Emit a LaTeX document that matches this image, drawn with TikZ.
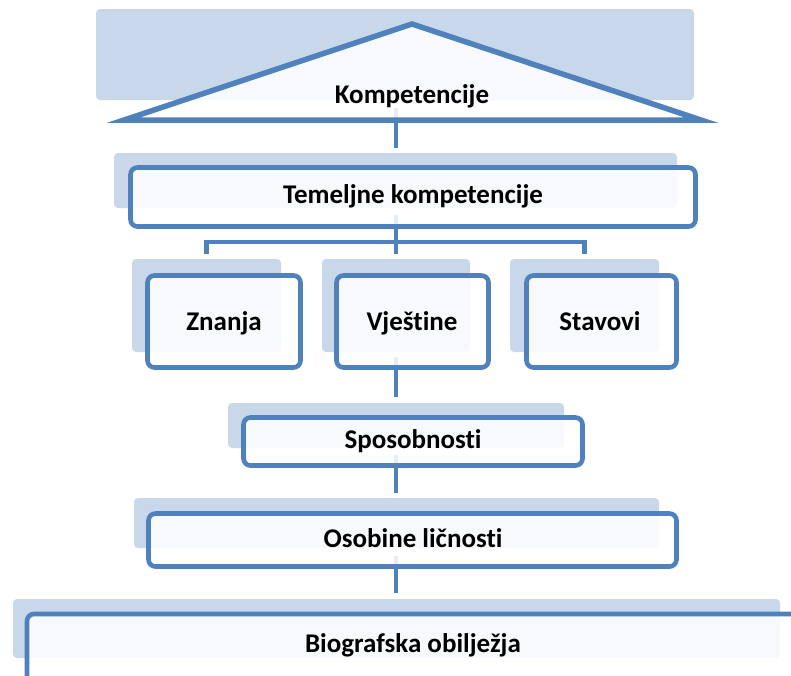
\documentclass[tikz,border=0pt]{standalone}
\usepackage{fontspec}
\setmainfont{Carlito}[Ligatures={NoCommon}]
\usetikzlibrary{calc}
\definecolor{edge}{RGB}{79,129,189}
\definecolor{shade}{RGB}{200,215,234}
\pgfdeclarelayer{back}
\pgfsetlayers{back,main}
\begin{document}
\begin{tikzpicture}[x=1pt,y=-1pt,
  shadebox/.style={fill=shade, draw=none, rounded corners=4pt, inner sep=0pt, outer sep=0pt},
  framebox/.style={draw=edge, line width=4.6pt, rounded corners=7pt, fill=white, fill opacity=0.86, inner sep=0pt},
  lbl/.style={font=\bfseries\fontsize{27}{32}\selectfont, anchor=base, inner sep=0pt},
  conn/.style={draw=edge, line width=4.6pt}]
\useasboundingbox (0,0) rectangle (791,675);
\coordinate (vx) at (396,0);
\coordinate (bus) at (396,242);
\coordinate (tribase) at (396,120);

% roof
\node[shadebox, minimum width=598pt, minimum height=91pt] (kompb) at (395,54.5) {};
\draw[edge, line width=5.5pt, line join=miter, fill=white, fill opacity=0.86]
  (124,120) -- (412,24) -- (701,120) -- cycle;
\node[lbl] (komp) at (412,103.5) {Kompetencije};

% Temeljne kompetencije
\node[shadebox, minimum width=563pt, minimum height=55pt] (temb) at (395.5,180.5) {};
\node[framebox, minimum width=565pt, minimum height=59pt] (tem) at (413,197) {};
\node[lbl] at (413,203) {Temeljne kompetencije};

% three boxes
\node[shadebox, minimum width=149pt, minimum height=93pt] (znb) at (206.5,305.5) {};
\node[framebox, minimum width=153pt, minimum height=92pt] (zn) at (224,321.5) {};
\node[lbl] at (224,330) {Znanja};

\node[shadebox, minimum width=148pt, minimum height=93pt] (vjb) at (396,305.5) {};
\node[framebox, minimum width=152pt, minimum height=92pt] (vj) at (412.5,321.5) {};
\node[lbl] at (412,330) {Vještine};

\node[shadebox, minimum width=149pt, minimum height=93pt] (stb) at (584.5,305.5) {};
\node[framebox, minimum width=150pt, minimum height=92pt] (st) at (601.5,321.5) {};
\node[lbl] at (600,330) {Stavovi};

% Sposobnosti
\node[shadebox, minimum width=336pt, minimum height=45pt] (spb) at (396,425.5) {};
\node[framebox, minimum width=339pt, minimum height=48pt] (sp) at (413,441.5) {};
\node[lbl] at (413,448) {Sposobnosti};

% Osobine ličnosti
\node[shadebox, minimum width=525pt, minimum height=50pt] (osb) at (396.5,523) {};
\node[framebox, minimum width=528pt, minimum height=53pt] (os) at (412.5,540) {};
\node[lbl] at (413,547) {Osobine ličnosti};

% Biografska obilježja
\node[shadebox, minimum width=767pt, minimum height=59pt] (bib) at (396.5,628.5) {};
\node[framebox, minimum width=773pt, minimum height=96pt] (bi) at (413.5,662) {};
\node[lbl] at (413,652) {Biografska obilježja};

% connectors
\begin{pgfonlayer}{back}
\draw[conn] ([yshift=12pt]tribase) -- ([yshift=5pt]temb.north -| vx);
\draw[conn] ([yshift=14pt]tem.south -| vx) -- ([yshift=5pt]vjb.north -| vx);
\draw[conn] ([yshift=5pt]znb.north) -- (znb.north |- bus) -- (stb.north |- bus) -- ([yshift=5pt]stb.north);
\draw[conn] ([yshift=13pt]vj.south -| vx) -- ([yshift=6pt]spb.north -| vx);
\draw[conn] ([yshift=13pt]sp.south -| vx) -- ([yshift=5pt]osb.north -| vx);
\draw[conn] ([yshift=13pt]os.south -| vx) -- ([yshift=6pt]bib.north -| vx);
\end{pgfonlayer}
\end{tikzpicture}
\end{document}
